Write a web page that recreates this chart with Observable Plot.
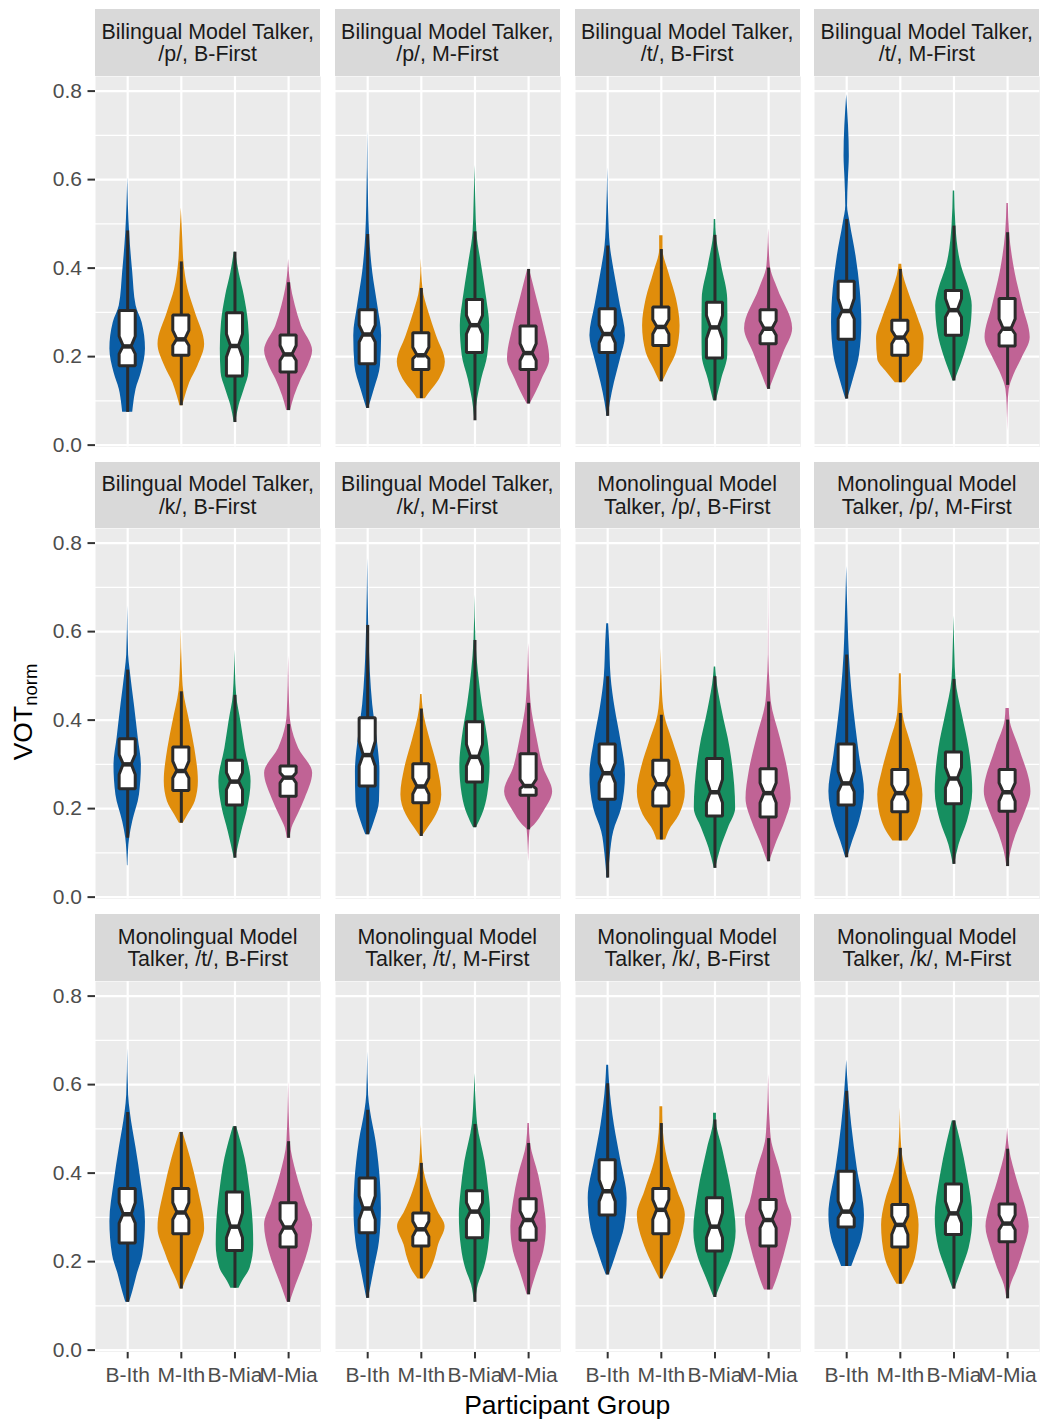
<!DOCTYPE html>
<html>
<head>
<meta charset="utf-8">
<script src="https://cdn.jsdelivr.net/npm/d3@7"></script>
<script src="https://cdn.jsdelivr.net/npm/@observablehq/plot@0.6"></script>
<style>
  html, body { margin: 0; padding: 0; background: #ffffff; }
  #chart { position: relative; width: 1041px; height: 1422px; font-family: "Liberation Sans", Arial, Helvetica, sans-serif; }
  .strip { position: absolute; background: #D9D9D9; color: #1A1A1A; display: flex; flex-direction: column; align-items: center; justify-content: center; font-size: 21.4px; line-height: 22.6px; text-align: center; white-space: nowrap; padding-top: 2px; box-sizing: border-box; }
  .panel g[aria-label^="y-axis"] line, .panel g[aria-label^="x-axis"] line,
  .panel g[aria-label^="y-axis"] path, .panel g[aria-label^="x-axis"] path { stroke: #333333; stroke-width: 2px; }
  .ytitle { position: absolute; left: 24px; top: 712px; transform: translate(-50%, -50%) rotate(-90deg); font-size: 26.5px; color: #000; white-space: nowrap; line-height: 30px; }
  .xtitle { position: absolute; left: 95px; width: 944.5px; top: 1390px; text-align: center; font-size: 26.5px; line-height: 30px; color: #000; }
</style>
</head>
<body>
<div id="chart"></div>
<script>
// ---------------- data ----------------
const stripLabels = [
  ["Bilingual Model Talker,", "/p/, B-First"],
  ["Bilingual Model Talker,", "/p/, M-First"],
  ["Bilingual Model Talker,", "/t/, B-First"],
  ["Bilingual Model Talker,", "/t/, M-First"],
  ["Bilingual Model Talker,", "/k/, B-First"],
  ["Bilingual Model Talker,", "/k/, M-First"],
  ["Monolingual Model", "Talker, /p/, B-First"],
  ["Monolingual Model", "Talker, /p/, M-First"],
  ["Monolingual Model", "Talker, /t/, B-First"],
  ["Monolingual Model", "Talker, /t/, M-First"],
  ["Monolingual Model", "Talker, /k/, B-First"],
  ["Monolingual Model", "Talker, /k/, M-First"]
];
const groups = ["B-Ith", "M-Ith", "B-Mia", "M-Mia"];
const groupColors = ["#0A5DA6", "#E08D0B", "#168F60", "#C06395"];
const yTicks = [0, 0.2, 0.4, 0.6, 0.8];
const yMinor = [0.1, 0.3, 0.5, 0.7];

// violin profiles: [VOTnorm value, relative density width (1 = widest)], panel by panel, groups in order
const violinProfiles = [
  // Bilingual /p/ B-First
  [[0.604,0],[0.48,0.08],[0.39,0.21],[0.315,0.35],[0.277,0.6],[0.217,0.74],[0.164,0.57],[0.126,0.35],[0.089,0.24],[0.074,0.21]],
  [[0.536,0],[0.465,0.06],[0.412,0.11],[0.352,0.28],[0.30,0.58],[0.228,0.97],[0.179,0.69],[0.141,0.35],[0.111,0.17],[0.089,0.06]],
  [[0.436,0.03],[0.39,0.17],[0.337,0.39],[0.277,0.56],[0.217,0.61],[0.164,0.58],[0.126,0.39],[0.089,0.17],[0.051,0.03]],
  [[0.42,0],[0.367,0.08],[0.315,0.28],[0.27,0.53],[0.213,1.0],[0.179,0.81],[0.149,0.53],[0.111,0.25],[0.078,0.08]],
  // Bilingual /p/ M-First
  [[0.71,0],[0.54,0.04],[0.473,0.08],[0.39,0.21],[0.315,0.42],[0.247,0.58],[0.179,0.53],[0.126,0.28],[0.083,0.04]],
  [[0.421,0],[0.352,0.07],[0.30,0.31],[0.247,0.63],[0.187,1.0],[0.149,0.76],[0.119,0.35],[0.105,0.17]],
  [[0.632,0],[0.54,0.04],[0.48,0.08],[0.405,0.28],[0.33,0.49],[0.27,0.61],[0.202,0.53],[0.149,0.28],[0.104,0.11],[0.059,0.01]],
  [[0.397,0.04],[0.33,0.35],[0.27,0.63],[0.194,0.88],[0.149,0.56],[0.119,0.31],[0.093,0.06]],
  // Bilingual /t/ B-First
  [[0.627,0],[0.525,0.04],[0.45,0.11],[0.39,0.28],[0.315,0.53],[0.247,0.74],[0.194,0.53],[0.141,0.28],[0.096,0.11],[0.065,0.03]],
  [[0.473,0.07],[0.442,0.07],[0.39,0.31],[0.33,0.63],[0.27,0.78],[0.209,0.63],[0.172,0.31],[0.143,0.06]],
  [[0.51,0.03],[0.473,0.06],[0.405,0.28],[0.33,0.53],[0.262,0.54],[0.202,0.53],[0.149,0.28],[0.1,0.06]],
  [[0.489,0],[0.405,0.07],[0.352,0.39],[0.263,1.0],[0.209,0.63],[0.164,0.31],[0.126,0.04]],
  // Bilingual /t/ M-First
  [[0.792,0],[0.653,0.11],[0.60,0.07],[0.54,0.04],[0.503,0.14],[0.427,0.39],[0.352,0.56],[0.277,0.63],[0.202,0.53],[0.149,0.28],[0.104,0.04]],
  [[0.409,0.06],[0.397,0.08],[0.345,0.35],[0.284,0.76],[0.24,0.99],[0.194,0.94],[0.164,0.56],[0.141,0.21]],
  [[0.574,0.03],[0.495,0.08],[0.405,0.31],[0.352,0.63],[0.315,0.76],[0.254,0.67],[0.202,0.42],[0.164,0.17],[0.145,0.04]],
  [[0.546,0.03],[0.48,0.08],[0.39,0.31],[0.315,0.63],[0.243,0.94],[0.194,0.58],[0.157,0.25],[0.126,0.07],[0.089,0.02],[0.032,0]],
  // Bilingual /k/ B-First
  [[0.658,0],[0.547,0.04],[0.513,0.1],[0.434,0.28],[0.359,0.44],[0.298,0.57],[0.231,0.49],[0.171,0.21],[0.133,0.08],[0.071,0.01]],
  [[0.607,0],[0.517,0.04],[0.464,0.1],[0.396,0.35],[0.336,0.56],[0.261,0.71],[0.216,0.58],[0.186,0.28],[0.167,0.08]],
  [[0.559,0],[0.456,0.07],[0.396,0.25],[0.336,0.42],[0.261,0.67],[0.2,0.53],[0.148,0.28],[0.088,0.03]],
  [[0.545,0],[0.411,0.06],[0.389,0.11],[0.336,0.42],[0.28,1.0],[0.223,0.69],[0.186,0.39],[0.156,0.14],[0.133,0.06]],
  // Bilingual /k/ M-First
  [[0.765,0],[0.622,0.04],[0.509,0.11],[0.434,0.21],[0.359,0.39],[0.283,0.51],[0.216,0.49],[0.171,0.28],[0.141,0.08]],
  [[0.458,0.03],[0.423,0.08],[0.359,0.35],[0.291,0.69],[0.231,0.85],[0.186,0.63],[0.156,0.28],[0.137,0.04]],
  [[0.682,0],[0.58,0.04],[0.509,0.14],[0.434,0.31],[0.359,0.53],[0.298,0.63],[0.231,0.53],[0.186,0.31],[0.157,0.06]],
  [[0.573,0],[0.471,0.06],[0.438,0.1],[0.359,0.35],[0.291,0.63],[0.238,1.0],[0.193,0.63],[0.163,0.25],[0.152,0.06],[0.079,0]],
  // Monolingual /p/ B-First
  [[0.618,0.04],[0.577,0.08],[0.498,0.14],[0.426,0.31],[0.351,0.56],[0.276,0.74],[0.2,0.58],[0.148,0.25],[0.095,0.11],[0.043,0.03]],
  [[0.562,0],[0.471,0.04],[0.411,0.14],[0.351,0.49],[0.291,0.83],[0.238,1.0],[0.186,0.76],[0.148,0.31],[0.129,0.18]],
  [[0.52,0.03],[0.498,0.06],[0.426,0.28],[0.336,0.63],[0.2,0.86],[0.156,0.56],[0.111,0.25],[0.065,0.03]],
  [[0.736,0],[0.547,0.01],[0.471,0.07],[0.441,0.11],[0.359,0.49],[0.283,0.81],[0.223,0.94],[0.171,0.69],[0.126,0.35],[0.08,0.04]],
  // Monolingual /p/ M-First
  [[0.747,0],[0.622,0.06],[0.547,0.11],[0.471,0.21],[0.381,0.39],[0.321,0.53],[0.238,0.74],[0.171,0.53],[0.126,0.25],[0.089,0.04]],
  [[0.505,0.04],[0.415,0.11],[0.351,0.42],[0.283,0.76],[0.231,0.94],[0.171,0.76],[0.141,0.49],[0.127,0.31]],
  [[0.635,0],[0.547,0.04],[0.492,0.08],[0.411,0.35],[0.336,0.63],[0.238,0.78],[0.171,0.56],[0.118,0.21],[0.074,0.03]],
  [[0.426,0.07],[0.4,0.1],[0.336,0.49],[0.238,0.97],[0.186,0.69],[0.141,0.35],[0.103,0.14],[0.069,0.03]],
  // Monolingual /t/ B-First
  [[0.681,0],[0.576,0.04],[0.537,0.11],[0.456,0.35],[0.38,0.56],[0.29,0.74],[0.215,0.63],[0.17,0.39],[0.132,0.21],[0.108,0.08]],
  [[0.492,0.07],[0.433,0.39],[0.365,0.69],[0.275,0.97],[0.223,0.69],[0.185,0.42],[0.155,0.17],[0.138,0.06]],
  [[0.505,0.07],[0.433,0.42],[0.358,0.63],[0.283,0.76],[0.238,0.78],[0.185,0.63],[0.155,0.31],[0.14,0.17]],
  [[0.606,0],[0.471,0.07],[0.395,0.35],[0.335,0.69],[0.283,1.0],[0.223,0.81],[0.185,0.58],[0.147,0.31],[0.108,0.06]],
  // Monolingual /t/ M-First
  [[0.674,0],[0.576,0.04],[0.542,0.11],[0.471,0.35],[0.38,0.53],[0.32,0.57],[0.245,0.49],[0.185,0.28],[0.117,0.04]],
  [[0.508,0],[0.422,0.07],[0.358,0.35],[0.313,0.69],[0.279,0.99],[0.238,0.72],[0.208,0.58],[0.177,0.35],[0.161,0.14]],
  [[0.625,0],[0.546,0.06],[0.51,0.11],[0.426,0.42],[0.358,0.58],[0.305,0.65],[0.23,0.56],[0.185,0.39],[0.147,0.14],[0.108,0.03]],
  [[0.512,0.03],[0.467,0.08],[0.395,0.42],[0.335,0.63],[0.279,0.74],[0.223,0.63],[0.177,0.35],[0.125,0.06]],
  // Monolingual /k/ B-First
  [[0.644,0.04],[0.602,0.08],[0.508,0.28],[0.433,0.53],[0.343,0.81],[0.275,0.69],[0.23,0.44],[0.192,0.21],[0.17,0.06]],
  [[0.55,0.06],[0.512,0.07],[0.426,0.28],[0.358,0.69],[0.305,1.0],[0.245,0.76],[0.2,0.42],[0.161,0.06]],
  [[0.535,0.06],[0.52,0.06],[0.456,0.31],[0.358,0.69],[0.268,0.88],[0.208,0.69],[0.162,0.35],[0.119,0.04]],
  [[0.623,0],[0.508,0.07],[0.478,0.11],[0.403,0.49],[0.335,0.76],[0.298,0.97],[0.238,0.76],[0.185,0.49],[0.155,0.31],[0.136,0.17]],
  // Monolingual /k/ M-First
  [[0.655,0],[0.585,0.08],[0.508,0.21],[0.411,0.44],[0.305,0.74],[0.253,0.63],[0.215,0.39],[0.189,0.21]],
  [[0.547,0],[0.456,0.06],[0.395,0.28],[0.335,0.63],[0.283,0.78],[0.208,0.63],[0.17,0.35],[0.149,0.14]],
  [[0.518,0.07],[0.471,0.28],[0.395,0.56],[0.298,0.78],[0.23,0.63],[0.185,0.35],[0.138,0.04]],
  [[0.501,0],[0.454,0.08],[0.38,0.42],[0.32,0.76],[0.279,0.9],[0.23,0.69],[0.185,0.42],[0.147,0.14],[0.116,0.03]]
];

// box stats: [lower whisker, Q1, notch low, median, notch high, Q3, upper whisker]
const boxStats = [
  [0.074,0.178,0.205,0.223,0.245,0.303,0.484],[0.089,0.202,0.224,0.239,0.258,0.293,0.414],[0.051,0.155,0.198,0.224,0.25,0.298,0.436],[0.078,0.164,0.19,0.205,0.224,0.248,0.367],
  [0.083,0.183,0.232,0.25,0.27,0.305,0.476],[0.105,0.17,0.194,0.203,0.22,0.253,0.354],[0.055,0.208,0.25,0.271,0.292,0.328,0.482],[0.093,0.17,0.19,0.208,0.228,0.268,0.397],
  [0.065,0.208,0.23,0.251,0.27,0.307,0.45],[0.143,0.224,0.25,0.267,0.283,0.311,0.442],[0.1,0.196,0.239,0.266,0.292,0.322,0.474],[0.126,0.228,0.247,0.263,0.28,0.305,0.40],
  [0.104,0.238,0.284,0.303,0.33,0.369,0.51],[0.141,0.202,0.228,0.243,0.258,0.281,0.397],[0.145,0.247,0.288,0.305,0.33,0.348,0.495],[0.135,0.223,0.25,0.263,0.284,0.33,0.48],
  [0.133,0.244,0.276,0.3,0.321,0.357,0.513],[0.167,0.24,0.268,0.285,0.306,0.338,0.464],[0.088,0.207,0.242,0.261,0.28,0.308,0.456],[0.133,0.227,0.257,0.27,0.28,0.295,0.39],
  [0.141,0.25,0.295,0.321,0.351,0.404,0.614],[0.137,0.212,0.232,0.25,0.268,0.3,0.425],[0.157,0.259,0.295,0.317,0.344,0.395,0.58],[0.152,0.229,0.244,0.251,0.265,0.323,0.438],
  [0.043,0.22,0.257,0.28,0.302,0.345,0.498],[0.129,0.205,0.238,0.255,0.274,0.308,0.411],[0.065,0.182,0.212,0.237,0.265,0.312,0.498],[0.08,0.18,0.212,0.235,0.257,0.289,0.441],
  [0.089,0.207,0.237,0.257,0.283,0.345,0.547],[0.127,0.192,0.216,0.235,0.253,0.287,0.415],[0.074,0.21,0.246,0.268,0.292,0.327,0.492],[0.069,0.193,0.216,0.237,0.257,0.287,0.4],
  [0.108,0.241,0.286,0.307,0.332,0.364,0.537],[0.138,0.262,0.294,0.311,0.332,0.364,0.492],[0.14,0.224,0.253,0.279,0.309,0.356,0.505],[0.108,0.232,0.26,0.277,0.294,0.332,0.471],
  [0.117,0.264,0.294,0.32,0.347,0.388,0.542],[0.161,0.234,0.256,0.273,0.29,0.309,0.422],[0.108,0.253,0.294,0.313,0.332,0.359,0.51],[0.125,0.247,0.275,0.294,0.313,0.341,0.467],
  [0.17,0.304,0.335,0.359,0.384,0.429,0.602],[0.161,0.262,0.294,0.317,0.339,0.364,0.512],[0.119,0.223,0.253,0.279,0.309,0.343,0.52],[0.136,0.234,0.275,0.294,0.317,0.339,0.478],
  [0.189,0.277,0.298,0.313,0.335,0.403,0.585],[0.149,0.232,0.26,0.283,0.302,0.328,0.456],[0.138,0.26,0.286,0.309,0.335,0.374,0.518],[0.116,0.244,0.271,0.286,0.304,0.329,0.454]
];

// ---------------- layout ----------------
const chart = document.getElementById("chart");
const panelLefts = [95, 334.7, 574.5, 814.2];
const panelTops = [75.7, 528.2, 980.7];
const panelW = 225.3, panelH = 370.4, stripH = 66.5;
const maxHalf = 0.448;   // half width of widest violin (category units)
const boxHalf = 0.15;    // half width of box
const ink = "#2B2B2B";
const fontFamily = '"Liberation Sans", Arial, Helvetica, sans-serif';

for (let p = 0; p < 12; p++) {
  const r = Math.floor(p / 4), c = p % 4;
  const ml = c === 0 ? 95 : 0;
  const mb = r === 2 ? 45 : 0;

  const violinData = [], boxData = [], boxPts = [];
  groups.forEach((g, i) => {
    const gi = i + 1;
    violinProfiles[p * 4 + i].forEach(([v, w]) => violinData.push({group: g, gi, v, w}));
    const [lo, q1, nlo, med, nhi, q3, hi] = boxStats[p * 4 + i];
    boxData.push({group: g, gi, lo, hi, med});
    [[q1, 1], [nlo, 1], [med, 0.5], [nhi, 1], [q3, 1]].forEach(([v, f]) => boxPts.push({group: g, gi, v, f}));
  });

  const svg = Plot.plot({
    width: panelW + ml,
    height: panelH + mb,
    marginLeft: ml, marginRight: 0, marginTop: 0, marginBottom: mb,
    x: {type: "linear", domain: [0.4, 4.6], ticks: 4, tickFormat: d => groups[Math.round(d) - 1],
        axis: r === 2 ? "bottom" : null, label: null, tickSize: 7, tickPadding: 8},
    y: {domain: [-0.004, 0.833], ticks: 5, tickFormat: d3.format(".1f"),
        axis: c === 0 ? "left" : null, label: null, tickSize: 7.5, tickPadding: 6},
    color: {domain: groups, range: groupColors},
    style: {fontFamily, fontSize: "21px", color: "#4D4D4D", background: "transparent", overflow: "visible"},
    marks: [
      Plot.frame({fill: "#EBEBEB", stroke: "none"}),
      Plot.ruleY(yMinor, {stroke: "#ffffff", strokeWidth: 1.1}),
      Plot.ruleY(yTicks, {stroke: "#ffffff", strokeWidth: 2.2}),
      Plot.ruleX([1, 2, 3, 4], {stroke: "#ffffff", strokeWidth: 2.2}),
      Plot.areaX(violinData, {
        y: "v",
        x1: d => d.gi - maxHalf * d.w,
        x2: d => d.gi + maxHalf * d.w,
        z: "group", fill: "group", curve: "monotone-y"
      }),
      Plot.ruleX(boxData, {x: "gi", y1: "lo", y2: "hi", stroke: ink, strokeWidth: 3}),
      Plot.areaX(boxPts, {
        y: "v",
        x1: d => d.gi - boxHalf * d.f,
        x2: d => d.gi + boxHalf * d.f,
        z: "group", fill: "white", stroke: ink, strokeWidth: 3, strokeLinejoin: "miter"
      }),
      Plot.ruleY(boxData, {y: "med", x1: d => d.gi - boxHalf / 2, x2: d => d.gi + boxHalf / 2, stroke: ink, strokeWidth: 4.5})
    ]
  });
  svg.classList.add("panel");
  svg.style.position = "absolute";
  svg.style.left = (panelLefts[c] - ml) + "px";
  svg.style.top = panelTops[r] + "px";
  svg.style.maxWidth = "none";
  chart.appendChild(svg);

  const strip = document.createElement("div");
  strip.className = "strip";
  strip.style.left = panelLefts[c] + "px";
  strip.style.top = (panelTops[r] - stripH) + "px";
  strip.style.width = panelW + "px";
  strip.style.height = stripH + "px";
  stripLabels[p].forEach(t => {
    const s = document.createElement("div");
    s.textContent = t;
    strip.appendChild(s);
  });
  chart.appendChild(strip);
}

const yt = document.createElement("div");
yt.className = "ytitle";
yt.innerHTML = 'VOT<span style="font-size:18.5px; position:relative; top:5px;">norm</span>';
chart.appendChild(yt);

const xt = document.createElement("div");
xt.className = "xtitle";
xt.textContent = "Participant Group";
chart.appendChild(xt);
</script>
</body>
</html>
